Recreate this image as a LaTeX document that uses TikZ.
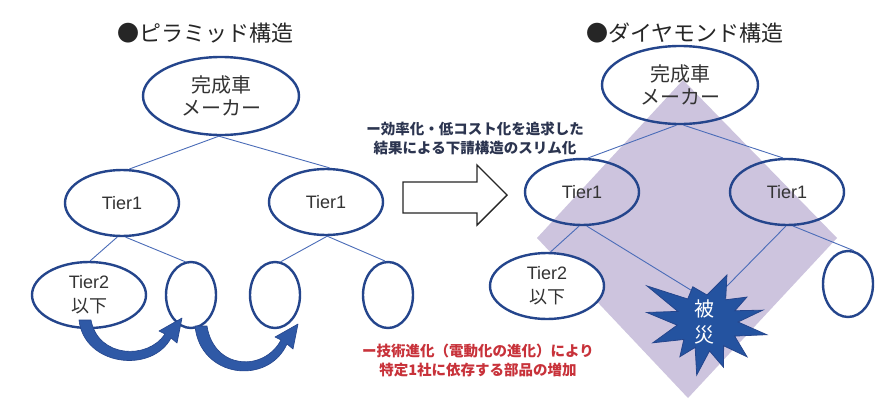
\documentclass[tikz,border=0pt]{standalone}
\usepackage{fontspec}
\setmainfont{Noto Sans CJK JP}
\newfontfamily\lat{Liberation Sans}
\usetikzlibrary{shapes.geometric, arrows.meta}
\definecolor{ebl}{HTML}{24458C}
\definecolor{lbl}{HTML}{4A6CB8}
\definecolor{lav}{HTML}{CDC4DE}
\definecolor{burstc}{HTML}{2453A0}
\definecolor{txt}{HTML}{333333}
\definecolor{redt}{HTML}{C8323A}
\definecolor{desc}{HTML}{2C3550}
\definecolor{arrc}{HTML}{2F59A6}
\tikzset{
 oval/.style={ellipse, draw=ebl, line width=2.4pt, inner sep=0pt, text=txt},
 big/.style={oval, minimum width=156pt, minimum height=78pt, align=center, font=\fontsize{20}{23}\selectfont},
 mid/.style={oval, minimum width=114pt, minimum height=66pt, font=\lat\fontsize{18}{22}\selectfont},
 midtwo/.style={oval, minimum width=114pt, minimum height=66pt, align=center, font=\fontsize{18}{24}\selectfont},
 small/.style={oval, minimum width=50pt, minimum height=66pt},
 link/.style={draw=lbl, line width=0.9pt},
 ttl/.style={font=\fontsize{22}{26}\selectfont, text=black!85},
 desctext/.style={align=center, font=\bfseries\fontsize{14.5}{19}\selectfont, text=desc},
 redtext/.style={align=center, font=\bfseries\fontsize{14.5}{19}\selectfont, text=redt},
 curvarrow/.style={fill=arrc, draw=ebl, line width=0.6pt, line join=round},
}
\begin{document}
\begin{tikzpicture}[x=1pt,y=-1pt]
\useasboundingbox (0,0) rectangle (893,399);
\fill[white] (0,0) rectangle (893,399);

% ===== Titles =====
\node[ttl] (t1) at (205,33) {●ピラミッド構造};
\node[ttl] (t2) at (685,33) {●ダイヤモンド構造};

% ===== Pyramid =====
\node[big] (ptop) at (221,96) {完成車\\メーカー};
\node[mid] (pl1) at (122,203) {Tier1};
\node[mid] (pr1) at (326,202) {Tier1};
\node[midtwo] (pt2) at (89,295) {{\lat Tier2}\\以下};
\node[small] (ps2) at (191,295) {};
\node[small] (ps3) at (275,295) {};
\node[small] (ps4) at (388,295) {};

\draw[link] (ptop.-93) -- (pl1.78);
\draw[link] (ptop.-93) -- (pr1.84);
\draw[link] (pl1.-98) -- (pt2.88);
\draw[link] (pl1.-84) -- (ps2.100);
\draw[link] (pr1.-88) -- (ps3.80);
\draw[link] (pr1.-88) -- (ps4.95);

% thick curved arrows
\path[curvarrow] (79,320) .. controls (84,366) and (152,374) .. (171,338)
  -- (177,343) -- (182,318) -- (159,331) -- (165,334)
  .. controls (148,360) and (98,358) .. (91,320) -- cycle;
\begin{scope}[shift={(116,6)}]
\path[curvarrow] (79,320) .. controls (84,372) and (152,380) .. (171,338)
  -- (177,343) -- (182,318) -- (159,331) -- (165,334)
  .. controls (148,366) and (98,364) .. (91,320) -- cycle;
\end{scope}

% ===== Middle arrow and texts =====
\node[desctext] (d1) at (475,138) {ー効率化・低コスト化を追求した\\結果による下請構造のスリム化};
\draw[line width=1.4pt, draw=black!85, fill=white, line join=miter]
  (403,182) -- (477,182) -- (477,165) -- (507,195) -- (477,225) -- (477,213) -- (403,213) -- cycle;
\node[redtext] (d2) at (478,360) {ー技術進化（電動化の進化）により\\特定1社に依存する部品の増加};

% ===== Diamond =====
\fill[lav] (683,80) -- (837,238) -- (688,398) -- (537,238) -- cycle;

\node[big] (dtop) at (680,85) {完成車\\メーカー};
\node[mid] (dl1) at (582,192) {Tier1};
\node[mid] (dr1) at (787,192) {Tier1};
\node[midtwo, fill=white] (dt2) at (547,286) {{\lat Tier2}\\以下};
\node[small] (ds) at (848,284) {};
\coordinate (sa) at (694,292);
\coordinate (sb) at (726,287);

\draw[link] (dtop.-95) -- (dl1.80);
\draw[link] (dtop.-85) -- (dr1.97);
\draw[link] (dl1.-95) -- (dt2.84);
\draw[link] (dl1.-82) -- (sa);
\draw[link] (dr1.-92) -- (sb);
\draw[link] (dr1.-80) -- (ds.80);

% starburst
\begin{scope}[shift={(707,322)}, y=1pt]
\path[fill=burstc, draw=ebl, line width=0.8pt, line join=miter]
  (149:70) -- (130:30) -- (112:38) -- (90:27) -- (67:51) -- (50:29)
  -- (32:47) -- (22:30) -- (12:57) -- (0:31) -- (-12:61) -- (-27:31)
  -- (-41:53) -- (-55:29) -- (-70:48) -- (-85:29) -- (-101:54) -- (-115:28)
  -- (-128:44) -- (-143:29) -- (-159:58) -- (-174:30) -- (171:61) -- (160:31) -- cycle;
\end{scope}
\node[align=center, text=white, font=\fontsize{20}{26}\selectfont] (burst) at (704,322) {被\\災};
\end{tikzpicture}
\end{document}
